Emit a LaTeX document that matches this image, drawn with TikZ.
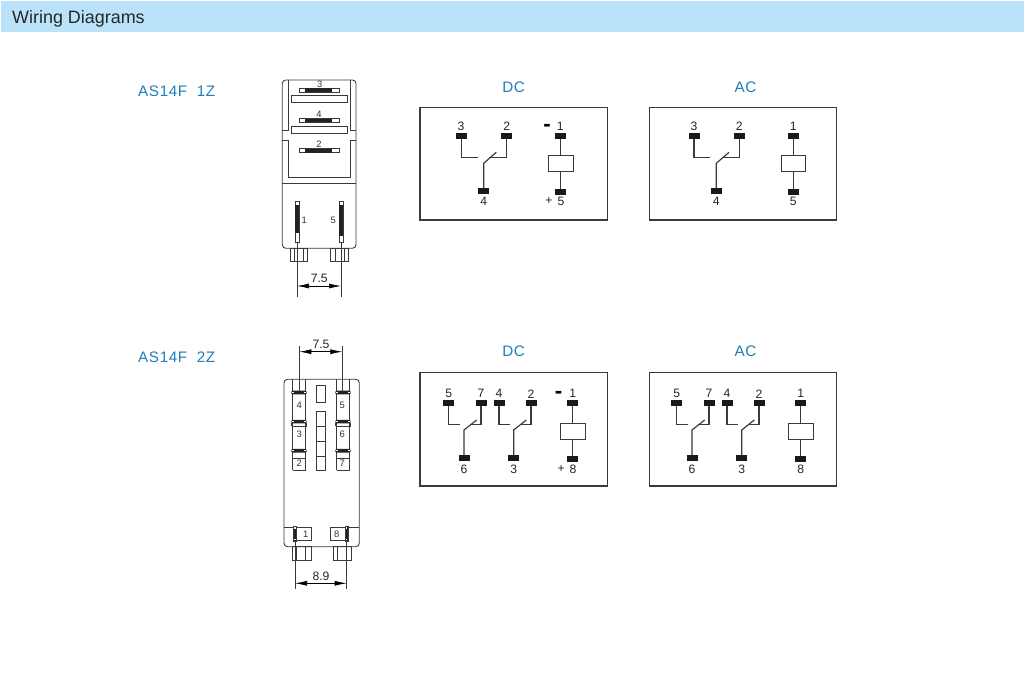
\documentclass[tikz,border=0pt]{standalone}
\usepackage{fontspec}
\setmainfont{Liberation Sans}
\usetikzlibrary{arrows.meta,positioning}
\definecolor{bandblue}{HTML}{BAE3F9}
\definecolor{titleblue}{HTML}{1F7DB8}
\definecolor{inkgray}{HTML}{3A3A3A}
\definecolor{bardark}{HTML}{222222}
\begin{document}
\begin{tikzpicture}[x=0.03cm,y=0.03cm]
                \tikzstyle{every node}+=[inner sep=0pt]
                \tikzstyle{terminal}=[fill=black!90,minimum width=0.33cm,minimum height=0.17cm]
                \tikzstyle{coil}=[draw=inkgray,fill=white,line width=0.95pt,minimum width=0.73cm,minimum height=0.48cm]
                \tikzstyle{wire}=[inkgray,line width=1pt]
                \tikzstyle{frame}=[inkgray,line width=1pt]
                \tikzstyle{body}=[inkgray,line width=0.75pt]
                \tikzstyle{dimline}=[{Latex[length=0.36cm,width=0.15cm]}-{Latex[length=0.36cm,width=0.15cm]},black,line width=0.6pt]
                \tikzstyle{num}=[font=\fontsize{10.4}{12}\selectfont,text=black!85]
                \tikzstyle{pinnum}=[font=\fontsize{8}{9}\selectfont,text=black!80]
                \tikzstyle{heading}=[font=\fontsize{13}{15}\addfontfeature{LetterSpace=4}\selectfont,text=titleblue]
                \tikzstyle{sign}=[font=\fontsize{19}{20}\bfseries\selectfont,text=black]
                \tikzstyle{gap}=[white,line width=0.9pt]
                \useasboundingbox (0,0) rectangle (1024,-685);
                \fill [white] (0,0) rectangle (1024,-685);
                \fill [bandblue] (1,-1) rectangle (1024,-32);
                \node (bandtext) [anchor=west,font=\fontsize{15.3}{17}\selectfont,text=black!85] at (12,-18.5) {Wiring Diagrams};
                \node (onez) [heading,anchor=west] at (138,-91.5) {AS14F\ \ 1Z};
                \node (twoz) [heading,anchor=west] at (138,-357.5) {AS14F\ \ 2Z};
                \node (dctop) [heading] at (513.7,-87) {DC};
                \node (actop) [heading] at (745.5,-87) {AC};
                \node (dcbot) [heading] at (513.7,-351) {DC};
                \node (acbot) [heading] at (745.5,-351) {AC};
                \draw [frame] (420,-107.3) rectangle (607.7,-220);
                \draw [frame] (649.3,-107.3) rectangle (836.7,-220);
                \draw [frame] (420,-372.7) rectangle (607.7,-486);
                \draw [frame] (649.3,-372.7) rectangle (836.7,-486);
                \node (dca3) [terminal] at (461.5,-136) {};
                \node (dca2) [terminal] at (506.5,-136) {};
                \node (dca4) [terminal] at (483.7,-191) {};
                \node (dca1) [terminal] at (560.3,-136) {};
                \node (dca5) [terminal] at (560.3,-192) {};
                \node (dcacoil) [coil] at (561,-163.8) {};
                \coordinate (dca3e) at (477.7,-157.3);
                \coordinate (dca2e) at (489,-157.3);
                \coordinate (dcaarm) at (483.7,-163.3);
                \coordinate (dcaarme) at (496.3,-152.3);
                \draw [wire] (dca3) |- (dca3e);
                \draw [wire] (dca2) |- (dca2e);
                \draw [wire] (dca4) -- (dcaarm) -- (dcaarme);
                \draw [wire] (dca1) -- (dca1 |- dcacoil.north);
                \draw [wire] (dca5 |- dcacoil.south) -- (dca5);
                \node (dca3n) [num] at (461,-126.5) {3};
                \node (dca2n) [num] at (506.7,-126.5) {2};
                \node (dca4n) [num] at (483.7,-201.5) {4};
                \node (dca1n) [num] at (560.3,-126.5) {1};
                \node (dca5n) [num] at (561,-201.5) {5};
                \node (dcaminus) [sign] at (547,-127.5) {-};
                \node (dcaplus) [num] at (549,-201) {+};
                \node (aca3) [terminal] at (694,-136) {};
                \node (aca2) [terminal] at (739.3,-136) {};
                \node (aca4) [terminal] at (716.3,-191) {};
                \node (aca1) [terminal] at (793.3,-136) {};
                \node (aca5) [terminal] at (793.3,-192) {};
                \node (acacoil) [coil] at (793.3,-163.8) {};
                \coordinate (aca3e) at (710.3,-157.3);
                \coordinate (aca2e) at (721.8,-157.3);
                \coordinate (acaarm) at (716.3,-163.3);
                \coordinate (acaarme) at (729,-152.3);
                \draw [wire] (aca3) |- (aca3e);
                \draw [wire] (aca2) |- (aca2e);
                \draw [wire] (aca4) -- (acaarm) -- (acaarme);
                \draw [wire] (aca1) -- (acacoil);
                \draw [wire] (acacoil) -- (aca5);
                \node (aca3n) [num] at (694,-126.5) {3};
                \node (aca2n) [num] at (739.3,-126.5) {2};
                \node (aca4n) [num] at (716.3,-201.5) {4};
                \node (aca1n) [num] at (793.3,-126.5) {1};
                \node (aca5n) [num] at (793.3,-201.5) {5};
                \node (dcb5) [terminal] at (448.7,-403.3) {};
                \node (dcb7) [terminal] at (481,-403.3) {};
                \node (dcb4) [terminal] at (499,-403.3) {};
                \node (dcb2) [terminal] at (531,-403.3) {};
                \node (dcb6) [terminal] at (464,-458.3) {};
                \node (dcb3) [terminal] at (513.7,-458.3) {};
                \node (dcb1) [terminal] at (572.7,-403.3) {};
                \node (dcb8) [terminal] at (572.7,-459.3) {};
                \node (dcbcoil) [coil] at (573,-431.2) {};
                \coordinate (dcb5e) at (460,-424.7);
                \coordinate (dcb7e) at (470,-424.7);
                \coordinate (dcbarma) at (464,-430);
                \coordinate (dcbarmae) at (476.7,-420);
                \coordinate (dcb4e) at (510,-424.7);
                \coordinate (dcb2e) at (520,-424.7);
                \coordinate (dcbarmb) at (513.7,-430);
                \coordinate (dcbarmbe) at (526.3,-420);
                \draw [wire] (dcb5) |- (dcb5e);
                \draw [wire] (dcb7) |- (dcb7e);
                \draw [wire] (dcb6) -- (dcbarma) -- (dcbarmae);
                \draw [wire] (dcb4) |- (dcb4e);
                \draw [wire] (dcb2) |- (dcb2e);
                \draw [wire] (dcb3) -- (dcbarmb) -- (dcbarmbe);
                \draw [wire] (dcb1) -- (dcb1 |- dcbcoil.north);
                \draw [wire] (dcb8 |- dcbcoil.south) -- (dcb8);
                \node (dcb5n) [num] at (448.7,-393.8) {5};
                \node (dcb7n) [num] at (481,-393.8) {7};
                \node (dcb4n) [num] at (499,-393.8) {4};
                \node (dcb2n) [num] at (531,-393.8) {2};
                \node (dcb1n) [num] at (572.7,-393.8) {1};
                \node (dcb6n) [num] at (464,-469) {6};
                \node (dcb3n) [num] at (513.7,-469) {3};
                \node (dcb8n) [num] at (573,-469) {8};
                \node (dcbminus) [sign] at (558.7,-394.8) {-};
                \node (dcbplus) [num] at (561.3,-468.7) {+};
                \node (acb5) [terminal] at (676.7,-403.3) {};
                \node (acb7) [terminal] at (709,-403.3) {};
                \node (acb4) [terminal] at (727,-403.3) {};
                \node (acb2) [terminal] at (759,-403.3) {};
                \node (acb6) [terminal] at (692,-458.3) {};
                \node (acb3) [terminal] at (741.7,-458.3) {};
                \node (acb1) [terminal] at (800.7,-403.3) {};
                \node (acb8) [terminal] at (800.7,-459.3) {};
                \node (acbcoil) [coil] at (801,-431.2) {};
                \coordinate (acb5e) at (688,-424.7);
                \coordinate (acb7e) at (698,-424.7);
                \coordinate (acbarma) at (692,-430);
                \coordinate (acbarmae) at (704.7,-420);
                \coordinate (acb4e) at (738,-424.7);
                \coordinate (acb2e) at (748,-424.7);
                \coordinate (acbarmb) at (741.7,-430);
                \coordinate (acbarmbe) at (754.3,-420);
                \draw [wire] (acb5) |- (acb5e);
                \draw [wire] (acb7) |- (acb7e);
                \draw [wire] (acb6) -- (acbarma) -- (acbarmae);
                \draw [wire] (acb4) |- (acb4e);
                \draw [wire] (acb2) |- (acb2e);
                \draw [wire] (acb3) -- (acbarmb) -- (acbarmbe);
                \draw [wire] (acb1) -- (acb1 |- acbcoil.north);
                \draw [wire] (acb8 |- acbcoil.south) -- (acb8);
                \node (acb5n) [num] at (676.7,-393.8) {5};
                \node (acb7n) [num] at (709,-393.8) {7};
                \node (acb4n) [num] at (727,-393.8) {4};
                \node (acb2n) [num] at (759,-393.8) {2};
                \node (acb1n) [num] at (800.7,-393.8) {1};
                \node (acb6n) [num] at (692,-469) {6};
                \node (acb3n) [num] at (741.7,-469) {3};
                \node (acb8n) [num] at (800.7,-469) {8};
                \draw [body,rounded corners=3pt] (282.3,-80) rectangle (356,-248.3);
                \draw [body] (288.3,-80) -- (288.3,-130.7) -- (282.3,-130.7);
                \draw [body] (350,-80) -- (350,-130.7) -- (356,-130.7);
                \draw [body] (282.3,-140.7) -- (288.3,-140.7) -- (288.3,-177.7) -- (350,-177.7) -- (350,-140.7) -- (356,-140.7);
                \draw [body] (282.3,-183.3) -- (356,-183.3);
                \draw [body] (291,-95.7) rectangle (347.3,-102.7);
                \draw [body] (291,-126.7) rectangle (347.3,-133.3);
                \draw [body] (299.3,-88.3) rectangle (339.3,-92.3);
                \fill [bardark] (305,-88.3) rectangle (332,-92.3);
                \draw [body] (299.3,-118.7) rectangle (339.3,-122.3);
                \fill [bardark] (305,-118.7) rectangle (332,-122.3);
                \draw [body] (299.3,-148.7) rectangle (339.3,-152.7);
                \fill [bardark] (305,-148.7) rectangle (332,-152.7);
                \draw [body] (295.3,-201.7) rectangle (299.3,-242.3);
                \fill [bardark] (295.3,-205) rectangle (299.3,-233);
                \draw [body] (339.3,-201.7) rectangle (343,-242.3);
                \fill [bardark] (339.3,-205) rectangle (343,-236);
                \draw [body] (290,-248.3) rectangle (307.7,-261.7);
                \draw [body] (294,-248.3) -- (294,-261.7);
                \draw [body] (303.3,-248.3) -- (303.3,-261.7);
                \draw [body] (330.7,-248.3) rectangle (348.7,-261.7);
                \draw [body] (335,-248.3) -- (335,-261.7);
                \draw [body] (344,-248.3) -- (344,-261.7);
                \node (pa3) [pinnum] at (319.7,-84.7) {3};
                \node (pa4) [pinnum] at (319,-114.7) {4};
                \node (pa2) [pinnum] at (319,-144.7) {2};
                \node (pa1) [pinnum] at (304.3,-220) {1};
                \node (pa5) [pinnum] at (333.3,-220) {5};
                \coordinate (dimal) at (297,-286);
                \coordinate (dimar) at (341,-286);
                \draw [body] (297,-242.3) -- (297,-296.7);
                \draw [body] (341,-242.3) -- (341,-296.7);
                \draw [dimline] (dimal) -- (dimar);
                \node (dima) [num] at (319.3,-278.5) {7.5};
                \draw [body,rounded corners=3pt] (284,-379.3) rectangle (359.3,-546.7);
                \draw [body] (292.7,-379.3) -- (292.7,-470);
                \draw [body] (305.7,-379.3) -- (305.7,-470);
                \draw [body] (292.7,-470) -- (305.7,-470);
                \draw [body] (336.7,-379.3) -- (336.7,-470);
                \draw [body] (349.7,-379.3) -- (349.7,-470);
                \draw [body] (336.7,-470) -- (349.7,-470);
                \draw [body] (292.7,-458) -- (305.7,-458);
                \draw [body] (336.7,-458) -- (349.7,-458);
                \fill [bardark,rounded corners=1pt] (291.3,-390.7) rectangle (306.7,-394.5);
                \fill [bardark,rounded corners=1pt] (291.3,-419.8) rectangle (306.7,-423.4);
                \fill [bardark,rounded corners=1pt] (291.3,-449) rectangle (306.7,-452.6);
                \fill [bardark,rounded corners=1pt] (335.3,-390.7) rectangle (350.7,-394.5);
                \fill [bardark,rounded corners=1pt] (335.3,-419.8) rectangle (350.7,-423.4);
                \fill [bardark,rounded corners=1pt] (335.3,-449) rectangle (350.7,-452.6);
                \draw [gap] (292.2,-392.6) -- (294,-392.6);
                \draw [gap] (304,-392.6) -- (305.8,-392.6);
                \draw [gap] (336.2,-392.6) -- (338,-392.6);
                \draw [gap] (348,-392.6) -- (349.8,-392.6);
                \draw [gap] (292.2,-421.6) -- (294,-421.6);
                \draw [gap] (304,-421.6) -- (305.8,-421.6);
                \draw [gap] (336.2,-421.6) -- (338,-421.6);
                \draw [gap] (348,-421.6) -- (349.8,-421.6);
                \draw [gap] (292.2,-450.8) -- (294,-450.8);
                \draw [gap] (304,-450.8) -- (305.8,-450.8);
                \draw [gap] (336.2,-450.8) -- (338,-450.8);
                \draw [gap] (348,-450.8) -- (349.8,-450.8);
                \draw [body] (291.5,-426.3) -- (306.5,-426.3);
                \draw [body] (335.5,-426.3) -- (350.5,-426.3);
                \draw [body] (291.5,-423.4) -- (291.5,-426.3);
                \draw [body] (306.5,-423.4) -- (306.5,-426.3);
                \draw [body] (335.5,-423.4) -- (335.5,-426.3);
                \draw [body] (350.5,-423.4) -- (350.5,-426.3);
                \draw [body] (316.3,-385) rectangle (325,-402.7);
                \draw [body] (316.3,-411) rectangle (325,-470.3);
                \draw [body] (316.3,-426) -- (325,-426);
                \draw [body] (316.3,-441) -- (325,-441);
                \draw [body] (316.3,-456) -- (325,-456);
                \draw [body] (284,-527.7) -- (311,-527.7) -- (311,-540.7) -- (293.3,-540.7);
                \draw [body] (359.3,-527.7) -- (330.7,-527.7) -- (330.7,-540.7) -- (348.3,-540.7);
                \draw [body,fill=bardark] (293.3,-526) rectangle (296.7,-541.7);
                \draw [body,fill=bardark] (345,-526) rectangle (348.3,-541.7);
                \draw [gap] (295,-527.2) -- (295,-529);
                \draw [gap] (295,-538.6) -- (295,-540.5);
                \draw [gap] (346.7,-527.2) -- (346.7,-529);
                \draw [gap] (346.7,-538.6) -- (346.7,-540.5);
                \draw [body] (292.3,-546.7) rectangle (311,-560);
                \draw [body] (296,-546.7) -- (296,-560);
                \draw [body] (305,-546.7) -- (305,-560);
                \draw [body] (333.3,-546.7) rectangle (351.7,-560);
                \draw [body] (337.3,-546.7) -- (337.3,-560);
                \draw [body] (346.7,-546.7) -- (346.7,-560);
                \node (pb4) [pinnum] at (299.3,-405) {4};
                \node (pb3) [pinnum] at (299.3,-434.3) {3};
                \node (pb2) [pinnum] at (299.3,-463.3) {2};
                \node (pb5) [pinnum] at (342.3,-405) {5};
                \node (pb6) [pinnum] at (342.3,-434.3) {6};
                \node (pb7) [pinnum] at (342.3,-463.3) {7};
                \node (pb1) [pinnum] at (305.7,-534) {1};
                \node (pb8) [pinnum] at (336.7,-534) {8};
                \coordinate (dimbl) at (299.3,-351.7);
                \coordinate (dimbr) at (342.3,-351.7);
                \draw [body] (299.3,-346) -- (299.3,-390.7);
                \draw [body] (342.3,-346) -- (342.3,-390.7);
                \draw [dimline] (dimbl) -- (dimbr);
                \node (dimb) [num] at (321,-344.5) {7.5};
                \coordinate (dimcl) at (295,-583.3);
                \coordinate (dimcr) at (346.7,-583.3);
                \draw [body] (295,-541.7) -- (295,-589.3);
                \draw [body] (346.7,-541.7) -- (346.7,-589.3);
                \draw [dimline] (dimcl) -- (dimcr);
                \node (dimc) [num] at (321,-576.3) {8.9};
            \end{tikzpicture}
\end{document}
